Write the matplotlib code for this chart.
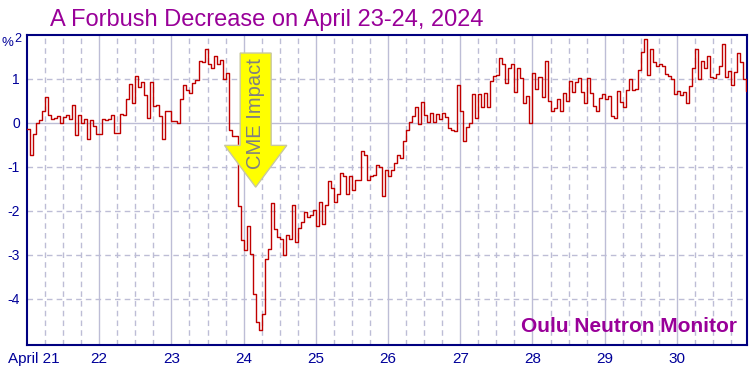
import numpy as np
import matplotlib
matplotlib.use("Agg")
import matplotlib.pyplot as plt
from matplotlib.patches import FancyArrow
import matplotlib.transforms as mtransforms

# ---- data (hourly relative count rate, %) ----
values = [
    -0.14, -0.73, -0.25, 0.00, 0.07, 0.28, 0.59, 0.18, 0.09, 0.12, 0.16, 0.00,
    0.14, 0.18, 0.09, 0.41, -0.27, 0.18, 0.00, 0.09, -0.36, 0.07, -0.07, -0.25,
    -0.25, 0.09, 0.07, 0.09, 0.18, -0.23, -0.23, 0.20, 0.18, 0.54, 0.89, 0.45,
    1.06, 0.81, 0.92, 0.63, 0.11, 0.92, 0.38, 0.41, 0.16, -0.36, 0.27, 0.27,
    0.05, 0.05, 0.00, 0.54, 0.86, 0.75, 0.68, 0.90, 0.97, 1.40, 1.38, 1.69,
    1.35, 1.26, 1.52, 1.35, 1.44, 0.99, 1.14, -0.17, -0.29, -0.29, -1.88, -2.66,
    -2.88, -2.35, -2.98, -3.89, -4.53, -4.71, -4.34, -3.09, -2.86, -1.83, -2.41, -2.60,
    -2.65, -3.00, -2.55, -2.64, -1.87, -2.71, -2.38, -2.26, -2.03, -2.14, -2.10, -1.98,
    -2.35, -1.80, -2.30, -1.87, -1.32, -1.47, -1.80, -1.62, -1.14, -1.20, -1.62, -1.21,
    -1.53, -1.30, -1.29, -0.64, -0.73, -1.30, -1.20, -1.19, -0.95, -1.00, -1.66, -1.06,
    -1.21, -1.08, -0.92, -0.72, -0.80, -0.41, -0.16, 0.02, 0.16, 0.36, -0.02, 0.47,
    0.18, 0.02, 0.23, 0.02, 0.20, 0.08, 0.23, 0.14, -0.11, -0.16, -0.18, 0.86,
    0.28, -0.41, -0.09, 0.00, 0.65, 0.11, 0.65, 0.36, 0.68, 0.36, 0.95, 1.07,
    1.09, 1.47, 1.33, 0.90, 1.24, 1.35, 0.71, 1.24, 1.02, 0.45, 0.61, 0.00,
    1.13, 0.77, 1.04, 0.59, 1.40, 0.50, 0.28, 0.33, 0.54, 0.27, 0.68, 0.50,
    0.95, 0.70, 0.93, 1.03, 0.70, 0.45, 1.03, 0.68, 0.38, 0.27, 0.56, 0.65,
    0.54, 0.61, 0.16, 0.11, 0.72, 0.47, 0.36, 0.74, 0.99, 0.74, 0.77, 1.20,
    1.62, 1.92, 1.08, 1.69, 1.38, 1.29, 1.35, 1.29, 1.11, 1.06, 0.99, 0.65,
    0.72, 0.63, 0.70, 0.45, 0.83, 1.26, 1.69, 0.99, 1.40, 1.24, 1.53, 1.04,
    1.02, 1.11, 1.29, 1.80, 1.04, 1.17, 0.86, 1.15, 1.60, 1.38, 0.99, 0.72,
]
day_labels = ["April 21", "22", "23", "24", "25", "26", "27", "28", "29", "30"]
y_ticks = [-4, -3, -2, -1, 0, 1, 2]
title = "A Forbush Decrease on April 23-24, 2024"
station = "Oulu Neutron Monitor"
arrow_text = "CME Impact"

navy = "#000099"
purple = "#990099"
gridc = "#BDBDD6"

fig = plt.figure(figsize=(7.56, 3.76), dpi=100)
ax = fig.add_axes([27/756, 1-345/376, 720/756, 310/376])

hours = np.arange(len(values) + 1)
yv = np.append(values, values[-1])
ax.step(hours, yv, where="post", color="#C00000", lw=1.0, zorder=3)

ax.set_xlim(0, 239.3)
ax.set_ylim(-5.05, 2.0)

# grid
for h in range(6, 240, 6):
    if h % 24 == 0:
        ax.axvline(h, color=gridc, lw=1.0, zorder=1)
    else:
        ax.axvline(h, color=gridc, lw=1.0, ls=(0, (4, 3)), zorder=1)
for v in y_ticks[:-1]:
    if v == 0:
        ax.axhline(v, color=gridc, lw=1.0, zorder=1)
    else:
        ax.axhline(v, color=gridc, lw=1.0, ls=(0, (4, 3)), zorder=1)

ax.set_xticks(np.arange(0, 240, 24))
ax.set_xticklabels(day_labels)
ax.set_yticks(y_ticks)
ax.set_yticklabels([str(v) for v in y_ticks])
ax.tick_params(axis="both", length=0, colors=navy)
ax.tick_params(axis="y", pad=5, labelsize=10)
ax.tick_params(axis="x", pad=5, labelsize=11)
for lab in ax.get_xticklabels():
    lab.set_family(["Liberation Sans", "DejaVu Sans"])
for lab in ax.get_yticklabels():
    lab.set_family(["Liberation Sans", "DejaVu Sans"])
first = ax.get_xticklabels()[0]
first.set_transform(first.get_transform() + mtransforms.ScaledTranslation(7/100, 0, fig.dpi_scale_trans))
top = ax.get_yticklabels()[-1]
top.set_fontsize(9)
top.set_transform(top.get_transform() + mtransforms.ScaledTranslation(1/100, -2.5/100, fig.dpi_scale_trans))

for s in ax.spines.values():
    s.set_color("#000080")
    s.set_linewidth(1.5)

# percent unit label
fig.text(13.5/756, 1-42.5/376, "%", color=navy, fontsize=9.5, family="Liberation Sans", va="center", ha="right")

# title
fig.text(50/756, 1-26/376, title, color=purple, fontsize=17, family="Liberation Sans", va="baseline", ha="left")

# station
ax.text(0.986, 0.06, station, transform=ax.transAxes, color=purple, fontsize=15,
        fontweight="bold", family="Liberation Sans", ha="right", va="center", zorder=5)

# arrow
arr = FancyArrow(76.0, 1.59, 0, -3.05, width=10.3, head_width=20.7, head_length=0.95,
                 length_includes_head=True, facecolor="#FFFF00", edgecolor="#C8C8A0", lw=1.0, zorder=4)
ax.add_patch(arr)
ax.text(76.0, 0.21, arrow_text, rotation=90, color="#808080", fontsize=14.5,
        family="Liberation Sans", ha="center", va="center", zorder=5)

fig.savefig("out.png", dpi=100, facecolor="white")
